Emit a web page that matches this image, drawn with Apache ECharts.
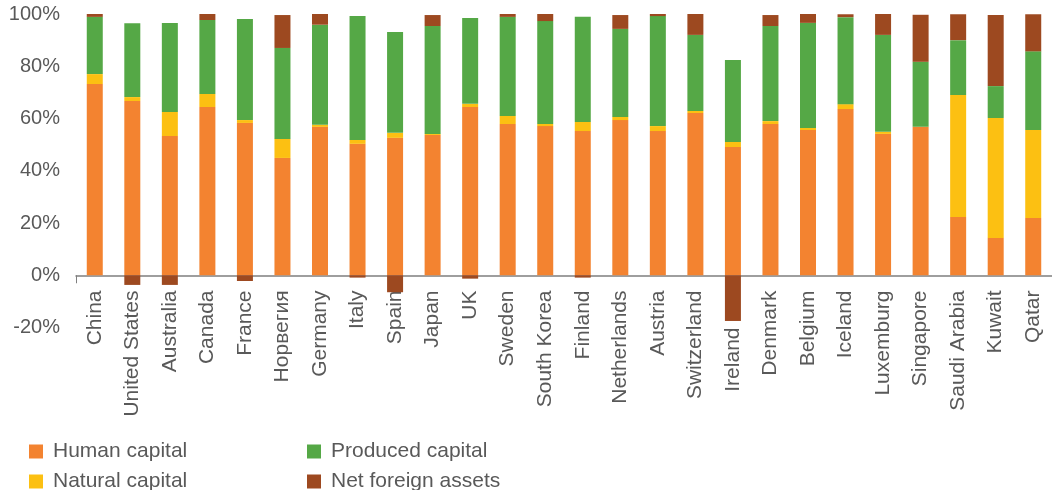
<!DOCTYPE html>
<html>
<head>
<meta charset="utf-8">
<script src="https://cdn.jsdelivr.net/npm/echarts@6/dist/echarts.min.js"></script>
<style>html,body{margin:0;padding:0;background:#fff}#c{width:1052px;height:490px}</style>
</head>
<body>
<div id="c"></div>
<script>
const categories = ['China','United States','Australia','Canada','France','Норвегия','Germany','Italy','Spain','Japan','UK','Sweden','South Korea','Finland','Netherlands','Austria','Switzerland','Ireland','Denmark','Belgium','Iceland','Luxemburg','Singapore','Saudi Arabia','Kuwait','Qatar'];
const humanCapital    = [73.2,66.7,53.3,64.4,58.3,44.9,56.8,50.3,52.6,53.7,64.4,57.9,57.1,55.2,59.4,55.2,62.1,49.1,57.9,55.6,63.6,54.1,56.8,22.3,14.3,21.9];
const naturalCapital  = [3.8,1.5,9.2,5.0,1.1,7.3,0.8,1.5,1.9,0.4,1.2,3.1,0.8,3.5,1.2,1.9,0.8,1.9,1.1,0.8,1.9,0.8,0,46.7,45.9,33.7];
const producedCapital = [21.9,28.3,34.1,28.3,38.7,34.8,38.3,47.4,38.6,41.3,32.9,37.9,39.4,40.2,33.7,42.1,29.1,31.4,36.4,40.2,33.3,37.1,24.9,21.0,12.2,30.1];
const netForeign      = [1.1,-3.7,-3.7,2.3,-2.2,12.6,4.2,-0.9,-6.5,4.2,-1.3,1.1,2.7,-0.9,5.3,0.8,8.0,-17.5,4.2,3.4,1.1,8.0,18.0,9.9,27.2,14.2];
const yTicks = [-20,0,20,40,60,80,100];

const colors = {h:'#F38330', n:'#FCC012', p:'#55A846', f:'#9D4920'};
const txt = '#595959';
const font = 'Liberation Sans, Arial, sans-serif';

function bar(name, data, color){
  return {name, type:'bar', stack:'total', data, barWidth:16, itemStyle:{color}, emphasis:{disabled:true}};
}
function leg(name, left, top){
  return {data:[name], left, top, icon:'rect', itemWidth:14, itemHeight:14, itemGap:0,
    textStyle:{color:txt, fontSize:21, fontFamily:font, padding:[0,0,0,5]}, selectedMode:false};
}
// Excel pushes the label below a long negative bar
const catData = categories.map(function(c){
  return c === 'Ireland' ? {value:c, textStyle:{padding:[0,37,0,0]}} : c;
});

const chart = echarts.init(document.getElementById('c'), null, {renderer:'canvas'});
chart.setOption({
  animation:false,
  grid:{left:76, top:14, width:982, height:313.5, containLabel:false},
  legend:[
    leg('Human capital', 24, 436),
    leg('Produced capital', 302, 436),
    leg('Natural capital', 24, 466),
    leg('Net foreign assets', 302, 466)
  ],
  xAxis:{type:'category', data:catData, boundaryGap:true,
    axisLine:{onZero:true, lineStyle:{color:'#7f7f7f', width:1.5}},
    axisTick:{show:true, length:8, interval:function(i){return i===0;}, lineStyle:{color:'#7f7f7f'}},
    axisLabel:{rotate:90, interval:0, color:txt, fontSize:21, fontFamily:font, margin:-37}},
  yAxis:{type:'value', min:yTicks[0], max:yTicks[yTicks.length-1], interval:20,
    axisLine:{show:false}, axisTick:{show:false}, splitLine:{show:false},
    axisLabel:{color:txt, fontSize:20, fontFamily:font, margin:16, padding:[6,0,0,0], formatter:function(v){return v+'%';}}},
  series:[
    bar('Human capital', humanCapital, colors.h),
    bar('Natural capital', naturalCapital, colors.n),
    bar('Produced capital', producedCapital, colors.p),
    bar('Net foreign assets', netForeign, colors.f)
  ]
});
</script>
</body>
</html>
